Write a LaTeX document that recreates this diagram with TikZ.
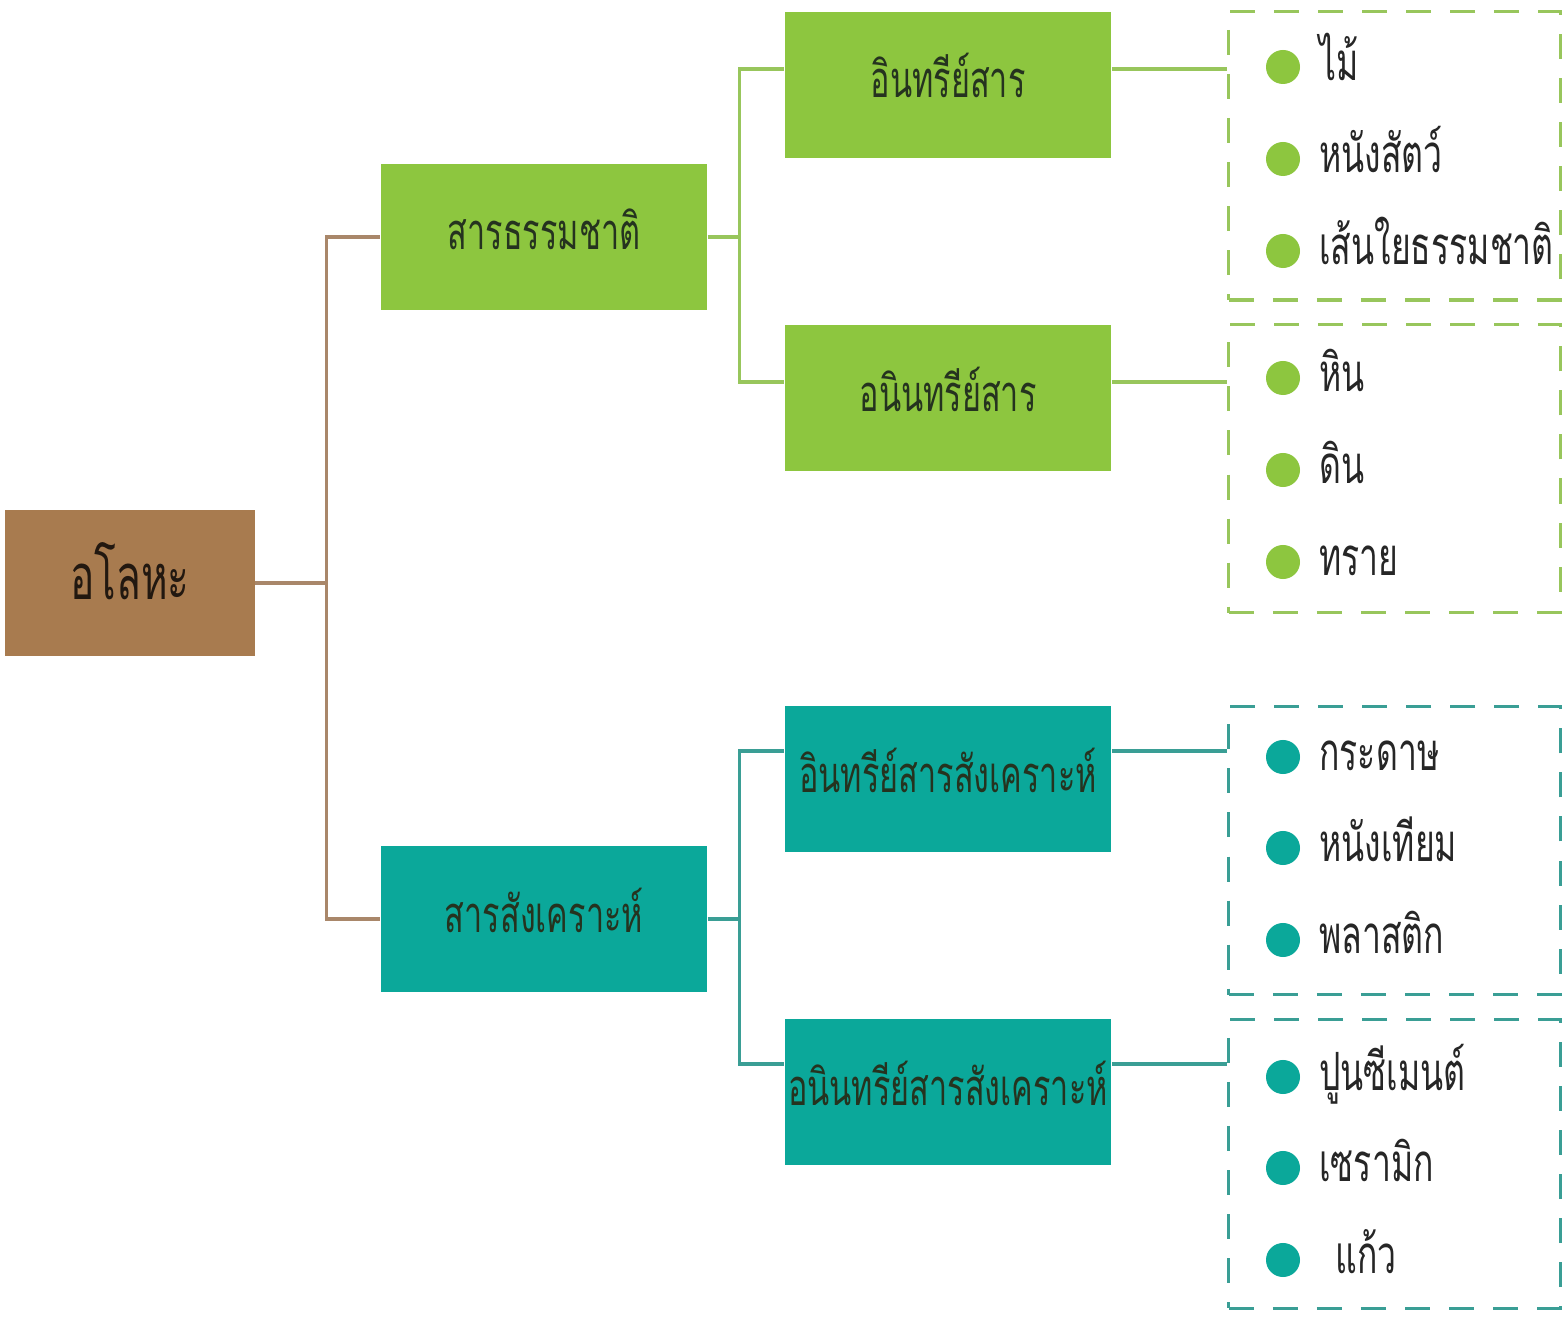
\documentclass[tikz,border=0pt]{standalone}
\usepackage{fontspec}
\newfontfamily\thaifont[Script=Thai,FakeStretch=0.64]{Loma}
\usetikzlibrary{positioning}

\definecolor{rootfill}{HTML}{A87B4F}
\definecolor{rootline}{HTML}{A9876A}
\definecolor{natfill}{HTML}{8DC63F}
\definecolor{natline}{HTML}{98C65C}
\definecolor{synfill}{HTML}{0BA89A}
\definecolor{synline}{HTML}{3A9E95}
\definecolor{boxtext}{HTML}{25331F}

\tikzset{
  box/.style={minimum width=3.26cm,minimum height=1.46cm,inner sep=0pt,
    text height=0.26cm,text depth=0pt,text=boxtext,
    font=\thaifont\fontsize{14.4}{14.4}\selectfont},
  natbox/.style={box,fill=natfill},
  synbox/.style={box,fill=synfill},
  listbox/.style={minimum width=3.31cm,minimum height=2.88cm,inner sep=0pt,
    line width=0.9pt,dash pattern=on 0.25cm off 0.19cm},
  dot/.style={circle,minimum size=0.34cm,inner sep=0pt},
  item/.style={right=0.18cm of #1,inner sep=0pt,text height=0.27cm,text depth=0pt,
    text=black!85,font=\thaifont\fontsize{15}{15}\selectfont}
}

\begin{document}
\begin{tikzpicture}[x=0.01cm,y=-0.01cm]
\fill[white] (0,0) rectangle (1563,1319);
\useasboundingbox (0,0) rectangle (1563,1319);

% main boxes
\node[box,fill=rootfill,minimum width=2.49cm,text=black!80!rootfill,
  text height=0.33cm,font=\thaifont\fontsize{18}{18}\selectfont] (root) at (130,583) {อโลหะ};
\node[natbox] (nat) at (544,237) {สารธรรมชาติ};
\node[synbox] (syn) at (544,919) {สารสังเคราะห์};
\node[natbox] (org) at (948,85) {อินทรีย์สาร};
\node[natbox] (inorg) at (948,398) {อนินทรีย์สาร};
\node[synbox] (sorg) at (948,779) {อินทรีย์สารสังเคราะห์};
\node[synbox] (sinorg) at (948,1092) {อนินทรีย์สารสังเคราะห์};

% dashed lists
\node[listbox,draw=natline] (list1) at (1394.5,156) {};
\node[listbox,draw=natline] (list2) at (1394.5,468.5) {};
\node[listbox,draw=synline] (list3) at (1394.5,850.5) {};
\node[listbox,draw=synline] (list4) at (1394.5,1164) {};

% connectors
\draw[rootline,line width=0.9pt] (root.east) -- ++(71,0) |- (nat.west);
\draw[rootline,line width=0.9pt] (root.east) -- ++(71,0) |- (syn.west);

\coordinate (orgin) at ([yshift=1.6mm]org.west);
\coordinate (inorgin) at ([yshift=1.6mm]inorg.west);
\coordinate (orgout) at ([yshift=1.6mm]org.east);
\coordinate (inorgout) at ([yshift=1.6mm]inorg.east);
\draw[natline,line width=0.9pt] (nat.east) -- ++(32,0) |- (orgin);
\draw[natline,line width=0.9pt] (nat.east) -- ++(32,0) |- (inorgin);
\draw[natline,line width=0.9pt] (orgout) -- (orgout -| list1.west);
\draw[natline,line width=0.9pt] (inorgout) -- (inorgout -| list2.west);

\coordinate (sorgin) at ([yshift=2.8mm]sorg.west);
\coordinate (sinorgin) at ([yshift=2.8mm]sinorg.west);
\coordinate (sorgout) at ([yshift=2.8mm]sorg.east);
\coordinate (sinorgout) at ([yshift=2.8mm]sinorg.east);
\draw[synline,line width=0.9pt] (syn.east) -- ++(32,0) |- (sorgin);
\draw[synline,line width=0.9pt] (syn.east) -- ++(32,0) |- (sinorgin);
\draw[synline,line width=0.9pt] (sorgout) -- (sorgout -| list3.west);
\draw[synline,line width=0.9pt] (sinorgout) -- (sinorgout -| list4.west);

% items
\node[dot,fill=natfill] (d1) at (1283,67) {};
\node[item=d1] {ไม้};
\node[dot,fill=natfill] (d2) at (1283,159) {};
\node[item=d2] {หนังสัตว์};
\node[dot,fill=natfill] (d3) at (1283,251) {};
\node[item=d3] {เส้นใยธรรมชาติ};

\node[dot,fill=natfill] (d4) at (1283,378) {};
\node[item=d4] {หิน};
\node[dot,fill=natfill] (d5) at (1283,470) {};
\node[item=d5] {ดิน};
\node[dot,fill=natfill] (d6) at (1283,562) {};
\node[item=d6] {ทราย};

\node[dot,fill=synfill] (d7) at (1283,757) {};
\node[item=d7] {กระดาษ};
\node[dot,fill=synfill] (d8) at (1283,848) {};
\node[item=d8] {หนังเทียม};
\node[dot,fill=synfill] (d9) at (1283,940) {};
\node[item=d9] {พลาสติก};

\node[dot,fill=synfill] (d10) at (1283,1077) {};
\node[item=d10] {ปูนซีเมนต์};
\node[dot,fill=synfill] (d11) at (1283,1168) {};
\node[item=d11] {เซรามิก};
\node[dot,fill=synfill] (d12) at (1283,1260) {};
\node[item=d12,xshift=0.16cm] {แก้ว};
\end{tikzpicture}
\end{document}
